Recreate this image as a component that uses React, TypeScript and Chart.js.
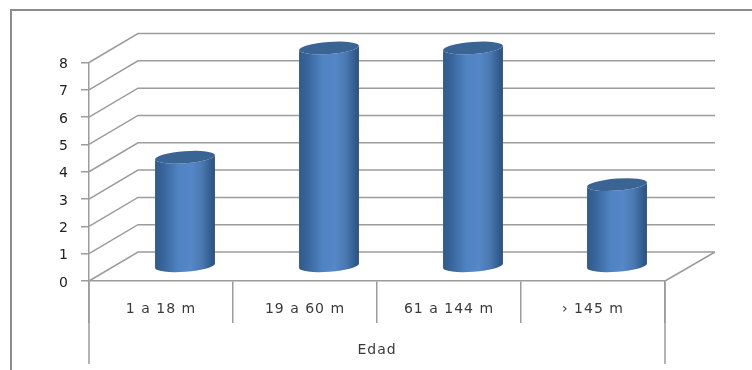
import React, { useEffect, useRef } from "react";
import { Chart, BarController, BarElement, CategoryScale, LinearScale } from "chart.js";

const categories = ["1 a 18 m", "19 a 60 m", "61 a 144 m", "› 145 m"];
const values = [4, 8, 8, 3];
const axisTitle = "Edad";

const GRID = "#9c9c9c";
const FRAME = "#8c8c8c";
const TEXT = "#3a3a3a";
const FONT = "'DejaVu Sans'";

// Oblique projection of the chart box: how far the back wall sits from the front plane.
const WALL_DX = 48;
const WALL_DY = -29;
const TILT = -0.075;
const CAP_RY = 6;

// A bar element drawn as a shaded cylinder standing halfway into the box.
class CylinderElement extends BarElement {
  static id = "cylinder";
  draw(ctx: CanvasRenderingContext2D) {
    const { x, y, base, width } = (this as any).getProps(["x", "y", "base", "width"]);
    const cx = x + WALL_DX / 2;
    const topY = y + WALL_DY / 2;
    const bottomY = base + WALL_DY / 2;
    const rx = width / 2;
    const left = cx - rx;
    const shade = ctx.createLinearGradient(left, 0, left + width, 0);
    shade.addColorStop(0, "#2f5a8b");
    shade.addColorStop(0.14, "#39659a");
    shade.addColorStop(0.38, "#4e82c1");
    shade.addColorStop(0.6, "#5587c8");
    shade.addColorStop(0.78, "#4a78b2");
    shade.addColorStop(0.92, "#355f90");
    shade.addColorStop(1, "#2c5079");
    ctx.save();
    ctx.beginPath();
    ctx.ellipse(cx, topY, rx, CAP_RY, TILT, Math.PI, 0, true);
    ctx.ellipse(cx, bottomY, rx, CAP_RY, TILT, 0, Math.PI, false);
    ctx.closePath();
    ctx.fillStyle = shade;
    ctx.fill();
    ctx.beginPath();
    ctx.ellipse(cx, topY, rx, CAP_RY, TILT, 0, Math.PI * 2);
    ctx.fillStyle = "#3a6494";
    ctx.fill();
    ctx.restore();
  }
}

class CylinderController extends BarController {
  static id = "cylinder";
  static defaults = { ...BarController.defaults, dataElementType: "cylinder" };
  static overrides = BarController.overrides;
}

// Back wall, side wall, floor, the long outer axis rules and the surrounding frame.
const chartBox = {
  id: "chartBox",
  beforeDraw(chart: any) {
    const { ctx, scales, width, height } = chart;
    const x = scales.x;
    const y = scales.y;
    ctx.save();
    ctx.lineWidth = 2;
    ctx.strokeStyle = FRAME;
    ctx.beginPath();
    ctx.moveTo(11, height);
    ctx.lineTo(11, 10);
    ctx.lineTo(width, 10);
    ctx.stroke();

    ctx.lineWidth = 1.5;
    ctx.strokeStyle = GRID;
    ctx.beginPath();
    for (const tick of y.ticks) {
      const py = y.getPixelForValue(tick.value);
      ctx.moveTo(x.left, py);
      ctx.lineTo(x.left + WALL_DX + 1, py + WALL_DY);
      ctx.lineTo(x.right + WALL_DX + 2, py + WALL_DY);
    }
    const floor = y.getPixelForValue(0);
    ctx.moveTo(x.right, floor);
    ctx.lineTo(x.right + WALL_DX + 2, floor + WALL_DY);
    ctx.moveTo(x.left, floor);
    ctx.lineTo(x.left, 364);
    ctx.moveTo(x.right, floor);
    ctx.lineTo(x.right, 364);
    ctx.stroke();
    ctx.restore();
    ctx.letterSpacing = "1px";
  },
  afterDraw(chart: any) {
    chart.ctx.letterSpacing = "0px";
  },
};

Chart.register(CylinderController, CylinderElement, CategoryScale, LinearScale, chartBox);

export default function App() {
  const ref = useRef<HTMLCanvasElement>(null);
  useEffect(() => {
    const chart = new Chart(ref.current!, {
      type: "cylinder" as any,
      data: {
        labels: categories,
        datasets: [{ data: values, categoryPercentage: 1, barPercentage: 0.417, clip: false } as any],
      },
      options: {
        responsive: false,
        animation: false,
        layout: { padding: { left: 0, top: 62.5, right: 87, bottom: 0 } },
        plugins: {},
        scales: {
          x: {
            type: "category",
            offset: true,
            afterFit: (s: any) => {
              s.height = 89;
            },
            grid: {
              offset: true,
              drawOnChartArea: false,
              drawTicks: true,
              tickLength: 42,
              color: GRID,
              lineWidth: 1.5,
            },
            border: { display: true, color: GRID, width: 1.5 },
            ticks: { padding: -22, color: TEXT, font: { family: FONT, size: 14 }, maxRotation: 0, autoSkip: false },
            title: {
              display: true,
              text: axisTitle,
              color: TEXT,
              font: { family: FONT, size: 14 },
              padding: { top: 0, bottom: 11 },
            },
          },
          y: {
            type: "linear",
            min: 0,
            max: 8,
            afterFit: (s: any) => {
              s.width = 89;
            },
            grid: { drawOnChartArea: false, tickLength: 8, color: GRID, lineWidth: 1.5 },
            border: { display: true, color: GRID, width: 1.5 },
            ticks: { stepSize: 1, padding: 12, labelOffset: 2, color: "#222", font: { family: FONT, size: 14 } },
          },
        },
      } as any,
    });
    return () => chart.destroy();
  }, []);
  return (
    <div style={{ position: "absolute", left: 0, top: 0, width: 752, height: 370 }}>
      <canvas ref={ref} width={752} height={370} style={{ display: "block" }} />
    </div>
  );
}
